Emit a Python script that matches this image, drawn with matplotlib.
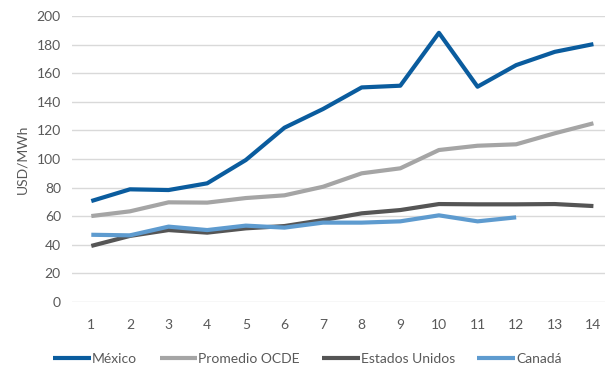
import matplotlib.pyplot as plt

# series values, USD/MWh
periods = list(range(1, 15))
mexico = [70.6, 78.8, 78.3, 83.0, 99.3, 121.9, 135.0, 150.1, 151.3, 188.3, 150.6, 165.7, 175.0, 180.4]
ocde = [60.1, 63.4, 69.7, 69.5, 72.7, 74.6, 80.6, 90.0, 93.5, 106.3, 109.3, 110.3, 118.0, 125.0]
eeuu = [39.2, 46.2, 50.3, 48.5, 51.5, 53.1, 57.3, 62.0, 64.3, 68.5, 68.3, 68.3, 68.5, 67.1]
canada = [47.0, 46.6, 52.7, 50.3, 53.4, 52.0, 55.5, 55.5, 56.4, 60.6, 56.4, 59.2]

plt.rcParams['font.family'] = ['Lato', 'DejaVu Sans']

fig = plt.figure(figsize=(6.05, 3.66), dpi=100)
ax = fig.add_axes([0.119, 0.175, 0.881, 0.781])

lw = 3.0
ax.plot(periods, mexico, color='#0A5C9E', lw=lw, label='México', solid_capstyle='butt')
ax.plot(periods, ocde, color='#A5A5A5', lw=lw, label='Promedio OCDE', solid_capstyle='butt')
ax.plot(periods, eeuu, color='#555555', lw=lw, label='Estados Unidos', solid_capstyle='butt')
ax.plot(periods[:len(canada)], canada, color='#5E9BCF', lw=lw, label='Canadá', solid_capstyle='butt')

ax.set_xlim(0.5, 14.3)
ax.set_ylim(0, 200)
ax.set_yticks(range(0, 201, 20))
ax.set_xticks(periods)
ax.yaxis.grid(True, color='#D9D9D9', lw=1)
ax.set_axisbelow(True)
for s in ax.spines.values():
    s.set_visible(False)
ax.tick_params(length=0, colors='#595959', labelsize=10, pad=8)
ax.tick_params(axis='x', pad=12)
ax.set_ylabel('USD/MWh', color='#595959', fontsize=10, labelpad=6)

ax.legend(loc='upper center', bbox_to_anchor=(0.442, -0.135), ncol=4, frameon=False,
          fontsize=10, labelcolor='#595959', handlelength=2.7, handletextpad=0.1,
          columnspacing=1.6)

fig.savefig('out.png', dpi=100)
